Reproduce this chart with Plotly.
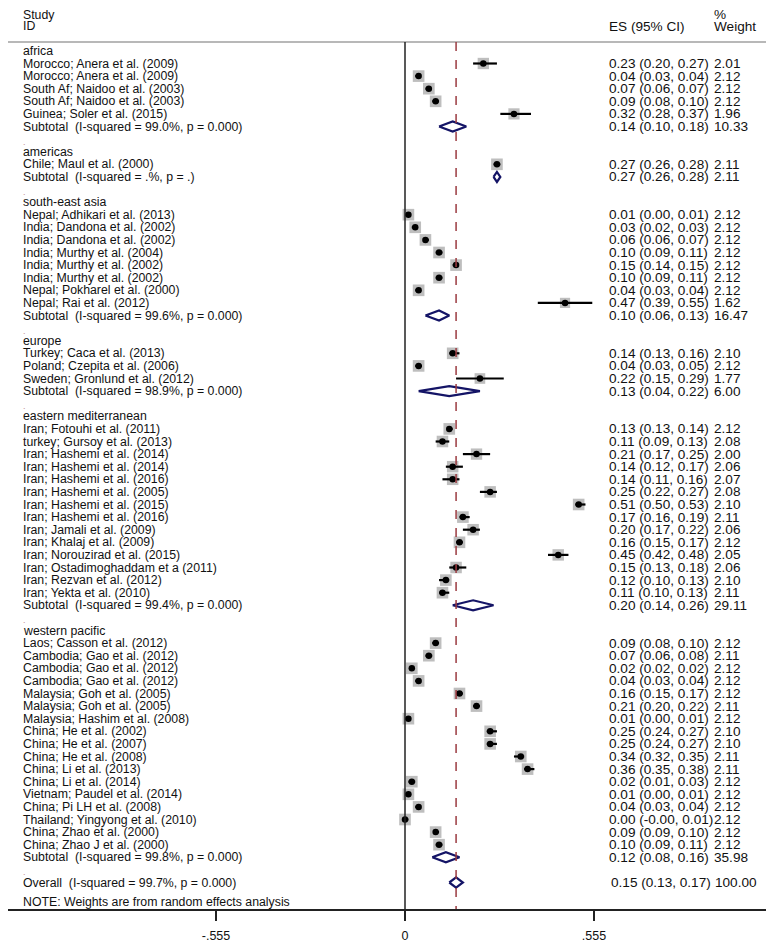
import plotly.graph_objects as go
import math

# ---------------- data ----------------
groups = ["africa", "americas", "south-east asia", "europe",
          "eastern mediterranean", "western pacific"]

africa_studies = ["Morocco; Anera et al. (2009)", "Morocco; Anera et al. (2009)",
                  "South Af; Naidoo et al. (2003)", "South Af; Naidoo et al. (2003)",
                  "Guinea; Soler et al. (2015)"]
africa_es = [0.23, 0.04, 0.07, 0.09, 0.32]
africa_lo = [0.20, 0.03, 0.06, 0.08, 0.28]
africa_hi = [0.27, 0.04, 0.07, 0.10, 0.37]
africa_w = [2.01, 2.12, 2.12, 2.12, 1.96]

americas_studies = ["Chile; Maul et al. (2000)"]
americas_es = [0.27]
americas_lo = [0.26]
americas_hi = [0.28]
americas_w = [2.11]

sea_studies = ["Nepal; Adhikari et al. (2013)", "India; Dandona et al. (2002)",
               "India; Dandona et al. (2002)", "India; Murthy et al. (2004)",
               "India; Murthy et al. (2002)", "India; Murthy et al. (2002)",
               "Nepal; Pokharel et al. (2000)", "Nepal; Rai et al. (2012)"]
sea_es = [0.01, 0.03, 0.06, 0.10, 0.15, 0.10, 0.04, 0.47]
sea_lo = [0.00, 0.02, 0.06, 0.09, 0.14, 0.09, 0.03, 0.39]
sea_hi = [0.01, 0.03, 0.07, 0.11, 0.15, 0.11, 0.04, 0.55]
sea_w = [2.12, 2.12, 2.12, 2.12, 2.12, 2.12, 2.12, 1.62]

europe_studies = ["Turkey; Caca et al. (2013)", "Poland; Czepita et al. (2006)",
                  "Sweden; Gronlund et al. (2012)"]
europe_es = [0.14, 0.04, 0.22]
europe_lo = [0.13, 0.03, 0.15]
europe_hi = [0.16, 0.05, 0.29]
europe_w = [2.10, 2.12, 1.77]

em_studies = ["Iran; Fotouhi et al. (2011)", "turkey; Gursoy et al. (2013)",
              "Iran; Hashemi et al. (2014)", "Iran; Hashemi et al. (2014)",
              "Iran; Hashemi et al. (2016)", "Iran; Hashemi et al. (2005)",
              "Iran; Hashemi et al. (2015)", "Iran; Hashemi et al. (2016)",
              "Iran; Jamali et al. (2009)", "Iran; Khalaj et al. (2009)",
              "Iran; Norouzirad et al. (2015)", "Iran; Ostadimoghaddam et a (2011)",
              "Iran; Rezvan et al. (2012)", "Iran; Yekta et al. (2010)"]
em_es = [0.13, 0.11, 0.21, 0.14, 0.14, 0.25, 0.51, 0.17, 0.20, 0.16, 0.45, 0.15, 0.12, 0.11]
em_lo = [0.13, 0.09, 0.17, 0.12, 0.11, 0.22, 0.50, 0.16, 0.17, 0.15, 0.42, 0.13, 0.10, 0.10]
em_hi = [0.14, 0.13, 0.25, 0.17, 0.16, 0.27, 0.53, 0.19, 0.22, 0.17, 0.48, 0.18, 0.13, 0.13]
em_w = [2.12, 2.08, 2.00, 2.06, 2.07, 2.08, 2.10, 2.11, 2.06, 2.12, 2.05, 2.06, 2.10, 2.11]

wp_studies = ["Laos; Casson et al. (2012)", "Cambodia; Gao et al. (2012)",
              "Cambodia; Gao et al. (2012)", "Cambodia; Gao et al. (2012)",
              "Malaysia; Goh et al. (2005)", "Malaysia; Goh et al. (2005)",
              "Malaysia; Hashim et al. (2008)", "China; He et al. (2002)",
              "China; He et al. (2007)", "China; He et al. (2008)",
              "China; Li et al. (2013)", "China; Li et al. (2014)",
              "Vietnam; Paudel et al. (2014)", "China; Pi LH et al. (2008)",
              "Thailand; Yingyong et al. (2010)", "China; Zhao et al. (2000)",
              "China; Zhao J et al. (2000)"]
wp_es = [0.09, 0.07, 0.02, 0.04, 0.16, 0.21, 0.01, 0.25, 0.25, 0.34, 0.36, 0.02, 0.01, 0.04, 0.00, 0.09, 0.10]
wp_lo = [0.08, 0.06, 0.02, 0.03, 0.15, 0.20, 0.00, 0.24, 0.24, 0.32, 0.35, 0.01, 0.00, 0.03, -0.002, 0.09, 0.09]
wp_hi = [0.10, 0.08, 0.02, 0.04, 0.17, 0.22, 0.01, 0.27, 0.27, 0.35, 0.38, 0.03, 0.01, 0.04, 0.01, 0.10, 0.11]
wp_w = [2.12, 2.11, 2.12, 2.12, 2.12, 2.11, 2.12, 2.10, 2.10, 2.11, 2.11, 2.12, 2.12, 2.12, 2.12, 2.12, 2.12]

subtotal_labels = ["Subtotal  (I-squared = 99.0%, p = 0.000)",
                   "Subtotal  (I-squared = .%, p = .)",
                   "Subtotal  (I-squared = 99.6%, p = 0.000)",
                   "Subtotal  (I-squared = 98.9%, p = 0.000)",
                   "Subtotal  (I-squared = 99.4%, p = 0.000)",
                   "Subtotal  (I-squared = 99.8%, p = 0.000)"]
subtotal_es = [0.14, 0.27, 0.10, 0.13, 0.20, 0.12]
subtotal_lo = [0.10, 0.26, 0.06, 0.04, 0.14, 0.08]
subtotal_hi = [0.18, 0.28, 0.13, 0.22, 0.26, 0.16]
subtotal_w = [10.33, 2.11, 16.47, 6.00, 29.11, 35.98]

overall_label = "Overall  (I-squared = 99.7%, p = 0.000)"
overall_es = 0.15
overall_lo = 0.13
overall_hi = 0.17
overall_w = 100.00

note_text = "NOTE: Weights are from random effects analysis"
tick_vals = [-0.555, 0, 0.555]
tick_text = ["-.555", "0", ".555"]

study_sets = [
    (africa_studies, africa_es, africa_lo, africa_hi, africa_w),
    (americas_studies, americas_es, americas_lo, americas_hi, americas_w),
    (sea_studies, sea_es, sea_lo, sea_hi, sea_w),
    (europe_studies, europe_es, europe_lo, europe_hi, europe_w),
    (em_studies, em_es, em_lo, em_hi, em_w),
    (wp_studies, wp_es, wp_lo, wp_hi, wp_w),
]

# ---------------- layout geometry (figure px; page has 8px body margin) ----------------
W, H = 767, 934
ML, MR, MT, MB = 0, 9, 0, 33
PW = W - ML - MR
PH = H - MT - MB
PX_PER_UNIT = 340.5
ZERO_PX = 397
x_left = -(ZERO_PX - ML) / PX_PER_UNIT
x_right = x_left + PW / PX_PER_UNIT
ROW_H = 12.6
ROW1_PX = 42.9
y_top = 1 - ROW1_PX / ROW_H
y_bottom = y_top + PH / ROW_H

TXT = "#111111"
FONT = "Liberation Sans, Arial, sans-serif"
FS = 12.3
FS_R = 13.6


def fmt(v):
    return f"{v:.2f}"


def es_text(e, lo, hi):
    return f"{fmt(e)} ({fmt(lo)}, {fmt(hi)})"


fig = go.Figure()
annotations = []
shapes = []


def add_text(xp, row, s, size=FS, color=TXT):
    annotations.append(dict(x=xp, y=row, xref="paper", yref="y", text=s,
                            showarrow=False, xanchor="left", yanchor="middle",
                            font=dict(family=FONT, size=size, color=color)))


LX = (13 - ML) / PW
EX = (599 - ML) / PW
WX = (704 - ML) / PW

box_x, box_y, box_s = [], [], []
dot_x, dot_y = [], []
ci_x, ci_y = [], []
dia_x, dia_y = [], []

row = 1
for gi, (names, es, lo, hi, w) in enumerate(study_sets):
    add_text(LX, row, groups[gi])
    row += 1
    for n, e, l, h, ww in zip(names, es, lo, hi, w):
        add_text(LX, row, n)
        add_text(EX, row, es_text(e, l, h), size=FS_R)
        add_text(WX, row, f"{ww:.2f}", size=FS_R)
        box_x.append(e); box_y.append(row); box_s.append(8 * math.sqrt(ww))
        dot_x.append(e); dot_y.append(row)
        ci_x += [l, h, None]; ci_y += [row, row, None]
        row += 1
    add_text(LX, row, subtotal_labels[gi])
    add_text(EX, row, es_text(subtotal_es[gi], subtotal_lo[gi], subtotal_hi[gi]), size=FS_R)
    add_text(WX, row, f"{subtotal_w[gi]:.2f}", size=FS_R)
    e, l, h = subtotal_es[gi], subtotal_lo[gi], subtotal_hi[gi]
    dia_x += [l, e, h, e, l, None]
    dia_y += [row, row - 0.4, row, row + 0.4, row, None]
    row += 1
    add_text(LX, row + 0.2, ".", size=9, color="#c09090")
    row += 1

overall_row = row
add_text(LX, overall_row, overall_label)
add_text((601 - ML) / PW, overall_row, es_text(overall_es, overall_lo, overall_hi), size=FS_R)
add_text((705 - ML) / PW, overall_row, f"{overall_w:.2f}", size=FS_R)
dia_x += [overall_lo, overall_es, overall_hi, overall_es, overall_lo]
dia_y += [overall_row, overall_row - 0.4, overall_row, overall_row + 0.4, overall_row]
add_text(LX, overall_row + 1.55, note_text)

# headers
hdr_top = 1 - 7 / PH
hdr_bot = 1 - 18 / PH
for xp, yp, s, fs in [(LX, hdr_top, "Study", FS), (LX, hdr_bot, "ID", FS),
                      (EX, hdr_bot, "ES (95% CI)", FS_R), (WX, hdr_top, "%", FS_R),
                      (WX, hdr_bot, "Weight", FS_R)]:
    annotations.append(dict(x=xp, y=yp, xref="paper", yref="paper", text=s,
                            showarrow=False, xanchor="left", yanchor="middle",
                            font=dict(family=FONT, size=fs, color=TXT)))

grey_row = y_top + 34 / ROW_H

# grey header rule
shapes.append(dict(type="line", xref="paper", yref="y", x0=0, x1=1,
                   y0=grey_row, y1=grey_row, line=dict(color="#b8b8b8", width=2)))
# null line
shapes.append(dict(type="line", xref="x", yref="y", x0=0, x1=0,
                   y0=grey_row, y1=y_bottom, line=dict(color="#222222", width=1.5)))
# overall effect dashed line
shapes.append(dict(type="line", xref="x", yref="y", x0=overall_es, x1=overall_es,
                   y0=grey_row, y1=y_bottom,
                   line=dict(color="#9a3a40", width=1.5, dash="dash")))

fig.add_trace(go.Scatter(x=box_x, y=box_y, mode="markers",
                         marker=dict(symbol="square", size=box_s, color="#a3a3a3",
                                     line=dict(width=0)),
                         hoverinfo="skip", showlegend=False))
fig.add_trace(go.Scatter(x=ci_x, y=ci_y, mode="lines",
                         line=dict(color="#000000", width=2.2),
                         hoverinfo="skip", showlegend=False))
fig.add_trace(go.Scatter(x=dot_x, y=dot_y, mode="markers",
                         marker=dict(symbol="circle", size=6.5, color="#000000"),
                         hoverinfo="skip", showlegend=False))
fig.add_trace(go.Scatter(x=dia_x, y=dia_y, mode="lines",
                         line=dict(color="#141466", width=2.2),
                         hoverinfo="skip", showlegend=False))

fig.update_layout(
    width=W, height=H,
    margin=dict(l=ML, r=MR, t=MT, b=MB, pad=0),
    paper_bgcolor="white", plot_bgcolor="white",
    showlegend=False,
    annotations=annotations,
    shapes=shapes,
    xaxis=dict(range=[x_left, x_right], showgrid=False, zeroline=False,
               showline=True, linecolor="#222222", linewidth=1.5,
               ticks="outside", ticklen=10, tickwidth=1.5, tickcolor="#222222",
               tickvals=tick_vals, ticktext=tick_text, ticklabelstandoff=4,
               tickfont=dict(family=FONT, size=12.5, color=TXT)),
    yaxis=dict(range=[y_bottom, y_top], showgrid=False, zeroline=False,
               showline=False, showticklabels=False, ticks=""),
)

fig.write_html("out.html")
